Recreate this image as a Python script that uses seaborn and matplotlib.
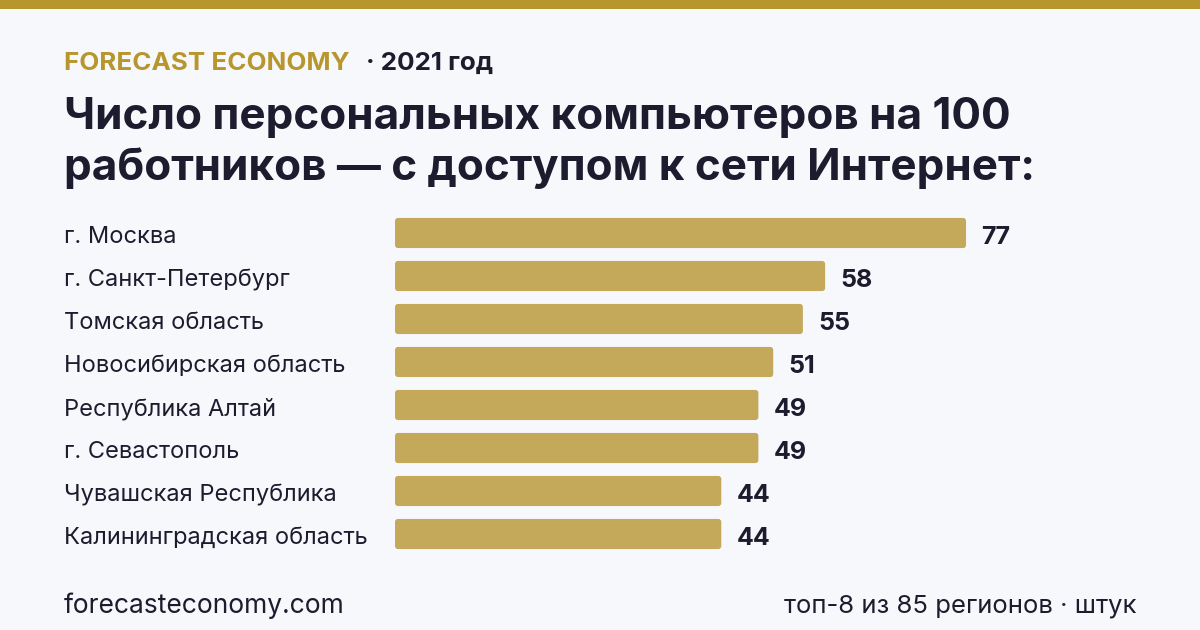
import pandas as pd
import seaborn as sns
import matplotlib.pyplot as plt
from matplotlib.patches import FancyBboxPatch, Rectangle

# данные
regions = ['г. Москва', 'г. Санкт-Петербург', 'Томская область', 'Новосибирская область',
           'Республика Алтай', 'г. Севастополь', 'Чувашская Республика', 'Калининградская область']
values = [77, 58, 55, 51, 49, 49, 44, 44]

BG = '#F7F8FC'
GOLD = '#B8962E'
BAR = '#C4A95B'
DARK = '#1C1C2E'

sns.set_theme(style='white')
plt.rcParams['font.family'] = ['Inter', 'DejaVu Sans']

df = pd.DataFrame({'region': regions, 'value': values})

fig = plt.figure(figsize=(12, 6.3), dpi=100, facecolor=BG)
ax = fig.add_axes([395 / 1200, 1 - 555.5 / 630, 765 / 1200, 344 / 630])
ax.set_facecolor(BG)

sns.barplot(data=df, y='region', x='value', orient='h', color=BAR, width=0.7,
            saturation=1, ax=ax)
ax.set_xlim(0, 765 / 7.416)
ax.set_ylim(7.5, -0.5)

# подписи значений
labels = ax.bar_label(ax.containers[0], padding=11, fontsize=18, fontweight='bold', color=DARK)
for t in labels:
    t.xyann = (11, -3)

# скруглённые бары
px_x = 7.416
px_y = 43
for p in list(ax.patches):
    if isinstance(p, Rectangle):
        fb = FancyBboxPatch((p.get_x(), p.get_y()), p.get_width(), p.get_height(),
                            boxstyle='round,pad=0,rounding_size=0.4',
                            mutation_aspect=px_x / px_y,
                            facecolor=BAR, edgecolor='none')
        p.set_visible(False)
        ax.add_patch(fb)

ax.set_xlabel('')
ax.set_ylabel('')
ax.set_xticks([])
ax.set_yticks([])
sns.despine(ax=ax, left=True, bottom=True)

# подписи регионов
for i, r in enumerate(regions):
    fig.text(64 / 1200, 1 - (237 + 43 * i) / 630, r, ha='left', va='center',
             fontsize=17, color=DARK)

# верхняя полоса
fig.patches.append(Rectangle((0, 1 - 9 / 630), 1, 9 / 630, transform=fig.transFigure,
                             facecolor=GOLD, edgecolor='none'))

fig.text(64 / 1200, 1 - 63 / 630, 'FORECAST ECONOMY', ha='left', va='center',
         fontsize=18.7, fontweight='bold', color=GOLD)
fig.text(366 / 1200, 1 - 63 / 630, '· 2021 год', ha='left', va='center',
         fontsize=18.7, fontweight='bold', color=DARK)

fig.text(64 / 1200, 1 - 118 / 630, 'Число персональных компьютеров на 100',
         ha='left', va='center', fontsize=31.7, fontweight='bold', color=DARK)
fig.text(64 / 1200, 1 - 168 / 630, 'работников — с доступом к сети Интернет:',
         ha='left', va='center', fontsize=31.7, fontweight='bold', color=DARK)

fig.text(64 / 1200, 1 - 606 / 630, 'forecasteconomy.com', ha='left', va='center',
         fontsize=19, color=DARK)
fig.text(1136 / 1200, 1 - 606 / 630, 'топ-8 из 85 регионов · штук', ha='right', va='center',
         fontsize=18.5, color=DARK)

fig.savefig('out.png', dpi=100, facecolor=BG)
